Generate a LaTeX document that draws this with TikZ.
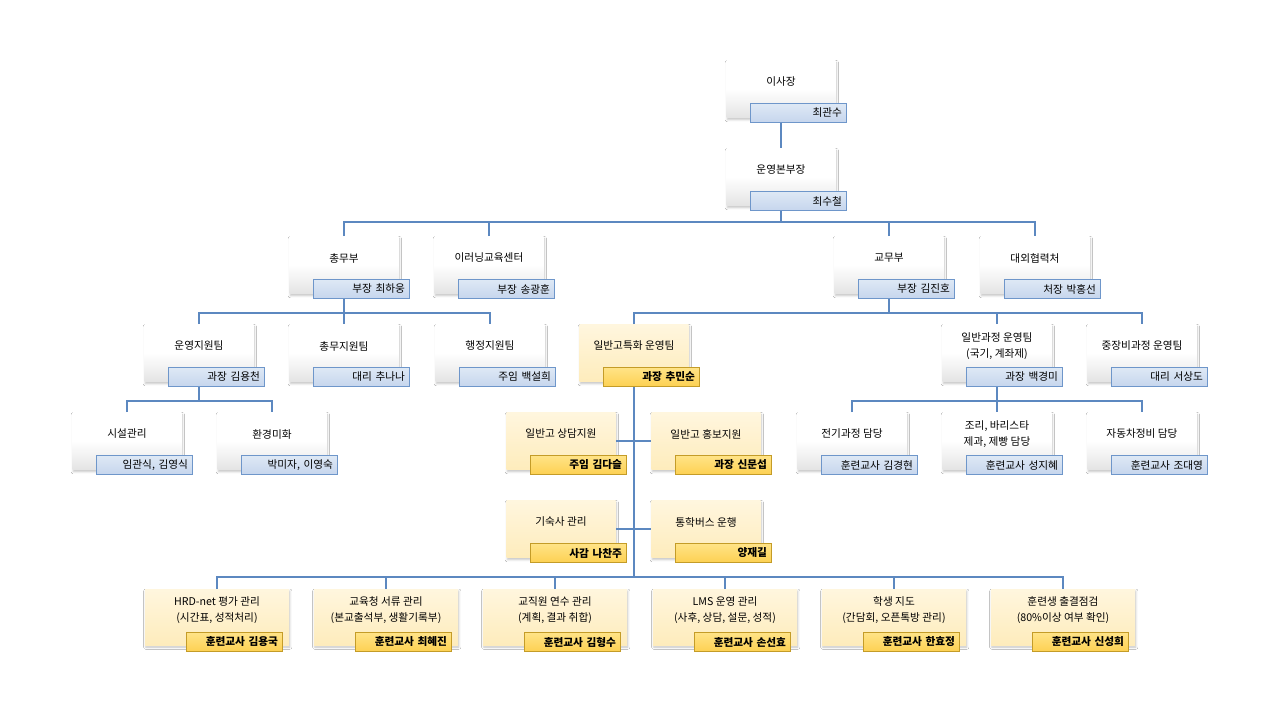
\documentclass[tikz,border=0pt]{standalone}
\usepackage{fontspec}
\setmainfont{Noto Sans CJK KR}
\usetikzlibrary{shadows.blur}
\definecolor{lineblue}{RGB}{92,136,192}
\definecolor{tagblue}{RGB}{222,232,245}
\definecolor{tagblueb}{RGB}{198,214,237}
\definecolor{tagedge}{RGB}{110,150,202}
\definecolor{boxgray}{RGB}{228,228,228}
\definecolor{boxyel}{RGB}{255,246,222}
\definecolor{boxyelb}{RGB}{254,236,188}
\definecolor{tagyel}{RGB}{255,228,135}
\definecolor{tagyelb}{RGB}{253,208,82}
\definecolor{tagyedge}{RGB}{196,156,40}

\begin{document}
\begin{tikzpicture}[x=0.75pt,y=-0.75pt,
    font=\fontsize{8}{11.5}\selectfont,
    wbox/.style={minimum width=81.75pt,minimum height=42.75pt,inner sep=0pt,
      top color=white,bottom color=boxgray,middle color=white,
      blur shadow={shadow xshift=0.6pt,shadow yshift=-1.6pt,shadow blur radius=1.6pt,shadow opacity=24}},
    ybox/.style={wbox,top color=boxyel,bottom color=boxyelb},
    wide/.style={minimum width=108pt,minimum height=42pt},
    btxt/.style={align=center,yshift=5.25pt},
    btag/.style={draw=tagedge,line width=0.75pt,top color=tagblue,bottom color=tagblueb,
      minimum height=14.25pt,inner ysep=0pt,inner xsep=3pt,text width=66pt,align=right},
    ytag/.style={btag,draw=tagyedge,top color=tagyel,bottom color=tagyelb,
      font=\fontsize{8}{11.5}\selectfont\bfseries},
    conn/.style={draw=lineblue,line width=0.9pt}]
\path[use as bounding box,fill=white] (0,0) rectangle (1280,720);

% top
\node[wbox,label={[btxt]center:이사장}] (isajang) at (781,89) {};
\node[btag] (isajang-t) at ([shift={(17,24)}]isajang) {최관수};
\node[wbox,label={[btxt]center:운영본부장}] (bonbu) at (781,177) {};
\node[btag] (bonbu-t) at ([shift={(17,24)}]bonbu) {최수철};

% departments
\node[wbox,label={[btxt]center:총무부}] (chongmu) at (344,265) {};
\node[btag] (chongmu-t) at ([shift={(17,24)}]chongmu) {부장 최하웅};
\node[wbox,label={[btxt]center:이러닝교육센터}] (elearn) at (489,265) {};
\node[btag] (elearn-t) at ([shift={(17,24)}]elearn) {부장 송광훈};
\node[wbox,label={[btxt]center:교무부}] (gyomu) at (889,265) {};
\node[btag] (gyomu-t) at ([shift={(17,24)}]gyomu) {부장 김진호};
\node[wbox,label={[btxt]center:대외협력처}] (daeoe) at (1035,265) {};
\node[btag] (daeoe-t) at ([shift={(17,24)}]daeoe) {처장 박홍선};

% teams
\node[wbox,label={[btxt]center:운영지원팀}] (unyeong) at (199,353) {};
\node[btag] (unyeong-t) at ([shift={(17,24)}]unyeong) {과장 김용천};
\node[wbox,label={[btxt]center:총무지원팀}] (chongji) at (344,353) {};
\node[btag] (chongji-t) at ([shift={(17,24)}]chongji) {대리 추나나};
\node[wbox,label={[btxt]center:행정지원팀}] (haengjeong) at (490,353) {};
\node[btag] (haengjeong-t) at ([shift={(17,24)}]haengjeong) {주임 백설희};
\node[ybox,label={[btxt]center:일반고특화 운영팀}] (teuk) at (634,353) {};
\node[ytag] (teuk-t) at ([shift={(17,24)}]teuk) {과장 추민순};
\node[wbox,label={[btxt]center:{일반과정 운영팀\\(국기, 계좌제)}}] (ilban) at (997,353) {};
\node[btag] (ilban-t) at ([shift={(17,24)}]ilban) {과장 백경미};
\node[wbox,label={[btxt]center:중장비과정 운영팀}] (jungjang) at (1142,353) {};
\node[btag] (jungjang-t) at ([shift={(17,24)}]jungjang) {대리 서상도};

% 4th row
\node[wbox,label={[btxt]center:시설관리}] (siseol) at (127,441) {};
\node[btag] (siseol-t) at ([shift={(17,24)}]siseol) {임관식, 김영식};
\node[wbox,label={[btxt]center:환경미화}] (hwangyeong) at (272,441) {};
\node[btag] (hwangyeong-t) at ([shift={(17,24)}]hwangyeong) {박미자, 이영숙};
\node[ybox,label={[btxt]center:일반고 상담지원}] (sangdam) at (561,441) {};
\node[ytag] (sangdam-t) at ([shift={(17,24)}]sangdam) {주임 김다슬};
\node[ybox,label={[btxt]center:일반고 홍보지원}] (hongbo) at (706,441) {};
\node[ytag] (hongbo-t) at ([shift={(17,24)}]hongbo) {과장 신문섭};
\node[wbox,label={[btxt]center:전기과정 담당}] (jeongi) at (852,441) {};
\node[btag] (jeongi-t) at ([shift={(17,24)}]jeongi) {훈련교사 김경현};
\node[wbox,label={[btxt]center:{조리, 바리스타\\제과, 제빵 담당}}] (jori) at (997,441) {};
\node[btag] (jori-t) at ([shift={(17,24)}]jori) {훈련교사 성지혜};
\node[wbox,label={[btxt]center:자동차정비 담당}] (jadong) at (1142,441) {};
\node[btag] (jadong-t) at ([shift={(17,24)}]jadong) {훈련교사 조대영};

\node[ybox,label={[btxt]center:기숙사 관리}] (gisuksa) at (561,529) {};
\node[ytag] (gisuksa-t) at ([shift={(17,24)}]gisuksa) {사감 나찬주};
\node[ybox,label={[btxt]center:통학버스 운행}] (tonghak) at (706,529) {};
\node[ytag] (tonghak-t) at ([shift={(17,24)}]tonghak) {양재길};

% bottom row
\node[ybox,wide,label={[btxt]center:{HRD-net 평가 관리\\(시간표, 성적처리)}}] (hrd) at (217,617) {};
\node[ytag] (hrd-t) at ([shift={(17,25)}]hrd) {훈련교사 김용국};
\node[ybox,wide,label={[btxt]center:{교육청 서류 관리\\(본교출석부, 생활기록부)}}] (gyoyuk) at (386,617) {};
\node[ytag] (gyoyuk-t) at ([shift={(17,25)}]gyoyuk) {훈련교사 최혜진};
\node[ybox,wide,label={[btxt]center:{교직원 연수 관리\\(계획, 결과 취합)}}] (yeonsu) at (555,617) {};
\node[ytag] (yeonsu-t) at ([shift={(17,25)}]yeonsu) {훈련교사 김형수};
\node[ybox,wide,label={[btxt]center:{LMS 운영 관리\\(사후, 상담, 설문, 성적)}}] (lms) at (725,617) {};
\node[ytag] (lms-t) at ([shift={(17,25)}]lms) {훈련교사 손선효};
\node[ybox,wide,label={[btxt]center:{학생 지도\\(간담회, 오픈톡방 관리)}}] (jido) at (894,617) {};
\node[ytag] (jido-t) at ([shift={(17,25)}]jido) {훈련교사 한효정};
\node[ybox,wide,label={[btxt]center:{훈련생 출결점검\\(80\%이상 여부 확인)}}] (chulgyeol) at (1063,617) {};
\node[ytag] (chulgyeol-t) at ([shift={(17,25)}]chulgyeol) {훈련교사 신성희};

% connectors
\coordinate (bus1) at (0,222);
\coordinate (bus2) at (0,313);
\coordinate (bus3) at (0,401);
\coordinate (bus4) at (0,577);
\draw[conn] (isajang |- isajang-t.south) -- (bonbu.north);
\draw[conn] (bonbu |- bonbu-t.south) -- (bonbu |- bus1);
\draw[conn] (chongmu.north) |- (daeoe |- bus1) -- (daeoe.north);
\draw[conn] (elearn.north) -- (elearn |- bus1);
\draw[conn] (gyomu.north) -- (gyomu |- bus1);
\draw[conn] (chongmu |- chongmu-t.south) -- (chongji.north);
\draw[conn] (unyeong.north) |- (haengjeong |- bus2) -- (haengjeong.north);
\draw[conn] (gyomu |- gyomu-t.south) -- (gyomu |- bus2);
\draw[conn] (teuk.north) |- (jungjang |- bus2) -- (jungjang.north);
\draw[conn] (ilban.north) -- (ilban |- bus2);
\draw[conn] (unyeong |- unyeong-t.south) -- (unyeong |- bus3);
\draw[conn] (siseol.north) |- (hwangyeong |- bus3) -- (hwangyeong.north);
\draw[conn] (ilban |- ilban-t.south) -- (jori.north);
\draw[conn] (jeongi.north) |- (jadong |- bus3) -- (jadong.north);
\draw[conn] (teuk |- teuk-t.south) -- (teuk |- bus4);
\draw[conn] (sangdam) -- (hongbo);
\draw[conn] (gisuksa) -- (tonghak);
\draw[conn] (hrd.north) |- (chulgyeol |- bus4) -- (chulgyeol.north);
\draw[conn] (gyoyuk.north) -- (gyoyuk |- bus4);
\draw[conn] (yeonsu.north) -- (yeonsu |- bus4);
\draw[conn] (lms.north) -- (lms |- bus4);
\draw[conn] (jido.north) -- (jido |- bus4);
\end{tikzpicture}
\end{document}
